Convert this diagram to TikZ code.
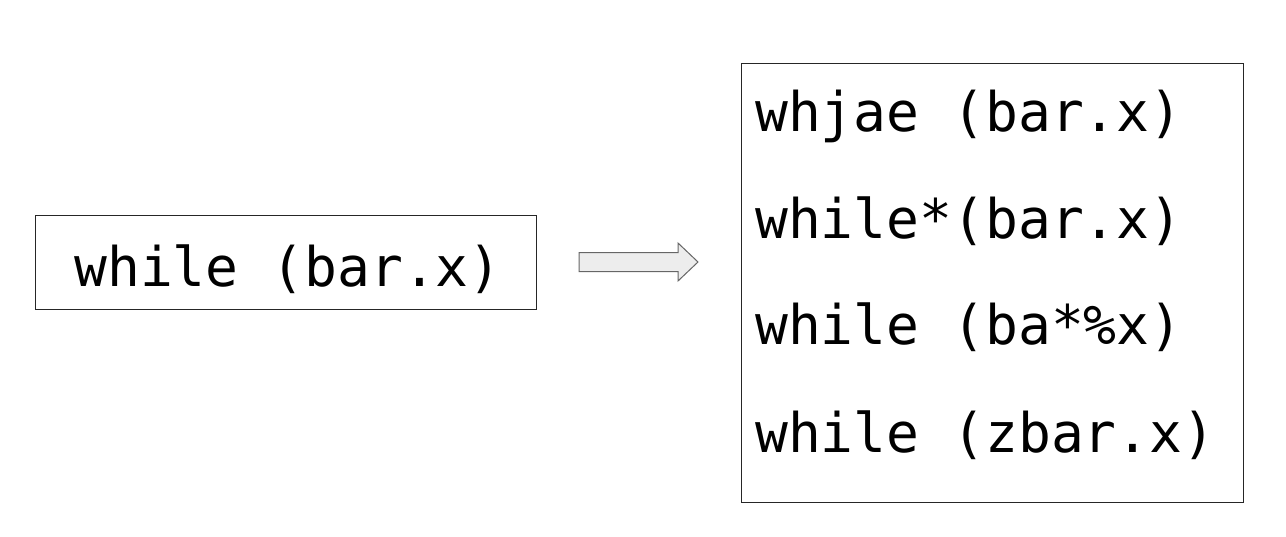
\documentclass[tikz,border=0pt]{standalone}
\usepackage{fontspec}
\setmonofont{DejaVu Sans Mono}
\usepackage{tikz}
\usetikzlibrary{calc}

\tikzset{
  codebox/.style={draw=black!85,line width=1pt,inner sep=0pt},
  codetext/.style={font=\ttfamily\fontsize{54.6}{60}\selectfont,inner sep=0pt},
  blockarrow/.style={draw=black!60,fill=black!7,line width=1pt,line join=miter}
}

\begin{document}
\begin{tikzpicture}[x=1pt,y=-1pt]
\useasboundingbox (0,0) rectangle (1286,536);
% input line
\node[codebox,minimum width=501pt,minimum height=94pt] (src) at (285.5,262) {};
\node[codetext,anchor=base] (srctxt) at (288,286) {while (bar.x)};
% mutated lines
\node[codebox,minimum width=502pt,minimum height=439pt] (out) at (992,282.5) {};
\node[codetext,anchor=base west] (m1) at (755,131) {whjae (bar.x)};
\node[codetext,anchor=base west] (m2) at (755,238) {while*(bar.x)};
\node[codetext,anchor=base west] (m3) at (755,344) {while (ba*\%x)};
\node[codetext,anchor=base west] (m4) at (755,452) {while (zbar.x)};
% arrow
\draw[blockarrow] (579,252.5) -- (678,252.5) -- (678,243) -- (698,262)
  -- (678,281) -- (678,271.5) -- (579,271.5) -- cycle;
\end{tikzpicture}
\end{document}
